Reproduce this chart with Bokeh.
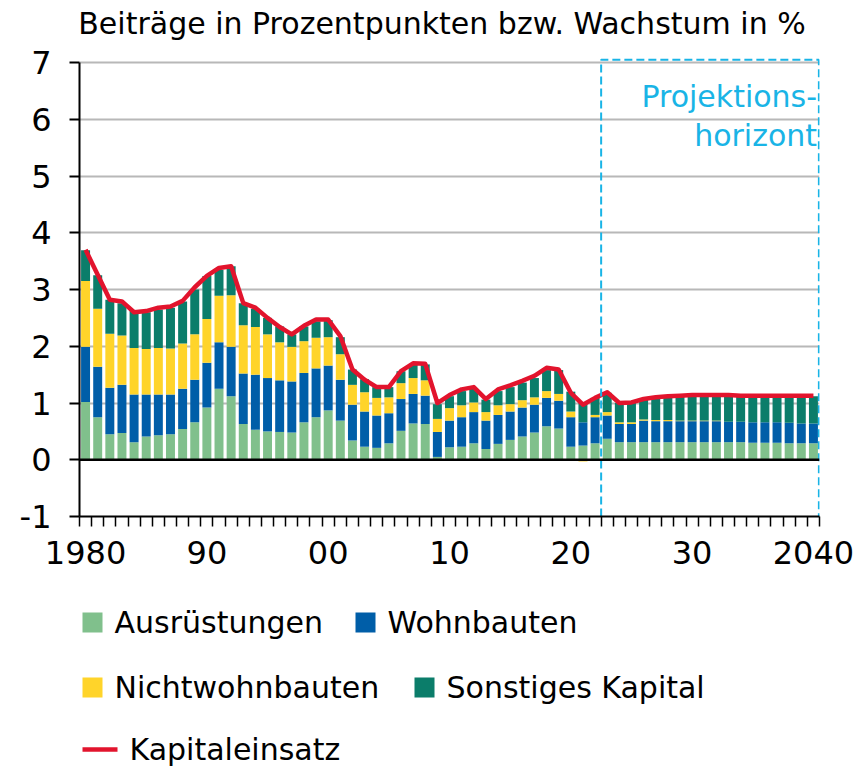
import numpy as np
from bokeh.plotting import figure
from bokeh.models import Range1d, FixedTicker, Span
from bokeh.layouts import column
from bokeh.embed import file_html
from bokeh.resources import INLINE
from bokeh.core.properties import value

# ---------------- data ----------------
years = list(range(1980, 2041))

ausruestungen = [1.02, 0.75, 0.45, 0.47, 0.31, 0.41, 0.43, 0.45, 0.54, 0.66,
                 0.92, 1.25, 1.12, 0.63, 0.53, 0.50, 0.49, 0.48, 0.66, 0.75,
                 0.87, 0.69, 0.34, 0.23, 0.21, 0.29, 0.51, 0.64, 0.63, 0.05,
                 0.22, 0.23, 0.29, 0.19, 0.28, 0.35, 0.41, 0.48, 0.59, 0.55,
                 0.23, 0.25, 0.29, 0.37, 0.31, 0.31, 0.31, 0.31, 0.31, 0.31,
                 0.31, 0.31, 0.31, 0.31, 0.31, 0.30, 0.30, 0.30, 0.29, 0.29, 0.29]

wohnbauten = [0.97, 0.89, 0.82, 0.85, 0.84, 0.74, 0.72, 0.70, 0.71, 0.75,
              0.79, 0.82, 0.87, 0.89, 0.97, 0.94, 0.91, 0.90, 0.87, 0.86,
              0.79, 0.72, 0.63, 0.62, 0.57, 0.53, 0.56, 0.52, 0.50, 0.44,
              0.47, 0.52, 0.55, 0.50, 0.51, 0.50, 0.51, 0.49, 0.50, 0.49,
              0.52, 0.41, 0.46, 0.41, 0.32, 0.32, 0.38, 0.37, 0.37, 0.37,
              0.37, 0.37, 0.37, 0.36, 0.36, 0.36, 0.36, 0.36, 0.36, 0.35, 0.35]

nichtwohnbauten = [1.16, 1.02, 0.95, 0.87, 0.82, 0.80, 0.82, 0.81, 0.80, 0.80,
                   0.77, 0.82, 0.91, 0.85, 0.84, 0.77, 0.67, 0.61, 0.56, 0.54,
                   0.50, 0.45, 0.35, 0.34, 0.31, 0.28, 0.28, 0.28, 0.27, 0.23,
                   0.22, 0.21, 0.17, 0.15, 0.17, 0.13, 0.13, 0.13, 0.12, 0.12,
                   0.10, -0.03, 0.04, 0.06, 0.03, 0.03, 0.02, 0.02, 0.02, 0.01,
                   0.01, 0.01, 0.01, 0.00, 0.00, 0.00, 0.00, 0.00, 0.00, 0.00, 0.00]

sonstiges_kapital = [0.54, 0.59, 0.60, 0.57, 0.65, 0.65, 0.68, 0.72, 0.74, 0.79,
                     0.76, 0.46, 0.51, 0.39, 0.32, 0.29, 0.28, 0.22, 0.26, 0.29,
                     0.30, 0.30, 0.27, 0.23, 0.19, 0.18, 0.21, 0.24, 0.28, 0.26,
                     0.21, 0.25, 0.24, 0.22, 0.25, 0.30, 0.31, 0.34, 0.37, 0.42,
                     0.35, 0.34, 0.30, 0.34, 0.34, 0.34, 0.36, 0.40, 0.42, 0.44,
                     0.44, 0.44, 0.44, 0.45, 0.45, 0.46, 0.46, 0.46, 0.47, 0.48, 0.48]

kapitaleinsatz = [3.70, 3.26, 2.82, 2.79, 2.60, 2.62, 2.68, 2.70, 2.80, 3.04,
                  3.24, 3.38, 3.41, 2.76, 2.68, 2.50, 2.34, 2.21, 2.36, 2.47,
                  2.47, 2.18, 1.59, 1.41, 1.28, 1.28, 1.56, 1.70, 1.69, 1.00,
                  1.14, 1.24, 1.28, 1.07, 1.24, 1.31, 1.39, 1.48, 1.62, 1.59,
                  1.18, 0.97, 1.09, 1.19, 1.00, 1.01, 1.07, 1.10, 1.12, 1.13,
                  1.14, 1.14, 1.14, 1.14, 1.13, 1.13, 1.13, 1.13, 1.13, 1.13, 1.13]

series_names = ["Ausrüstungen", "Wohnbauten", "Nichtwohnbauten", "Sonstiges Kapital"]
line_name = "Kapitaleinsatz"
tick_years = [1980, 1990, 2000, 2010, 2020, 2030, 2040]
tick_labels = ["1980", "90", "00", "10", "20", "30", "2040"]
y_ticks = [-1, 0, 1, 2, 3, 4, 5, 6, 7]
y_tick_labels = ["-1", "0", "1", "2", "3", "4", "5", "6", "7"]
projection_start = 2022.5
title_text = "Beiträge in Prozentpunkten bzw. Wachstum in %"
proj_text = ["Projektions-", "horizont"]

# ---------------- style ----------------
FONT = "DejaVu Sans"
COLORS = ["#80c08c", "#005ea8", "#ffd42a", "#0b7d6a"]
RED = "#e2142d"
CYAN = "#19b4e6"
GRID = "#b8b8b8"
BL, BR = 79, 38   # left/right borders shared by both figures
W = 857

# ---------------- stacking ----------------
vals = np.array([ausruestungen, wohnbauten, nichtwohnbauten, sonstiges_kapital])
pos = np.clip(vals, 0, None)
neg = np.clip(vals, None, 0)
pos_top = np.cumsum(pos, axis=0)
pos_bot = pos_top - pos
neg_bot = np.cumsum(neg, axis=0)
neg_top = neg_bot - neg
bottoms = np.where(vals >= 0, pos_bot, neg_bot)
tops = np.where(vals >= 0, pos_top, neg_top)

# ---------------- main figure (title area included in the frame) ----------------
p = figure(width=W, height=589,
           x_range=Range1d(1979.5, 2040.5), y_range=Range1d(-1, 8.0935),
           output_backend="svg", toolbar_location=None,
           min_border_left=BL, min_border_right=BR,
           min_border_top=0, min_border_bottom=73)
p.outline_line_color = None

p.xgrid.visible = False
p.ygrid.ticker = FixedTicker(ticks=[1, 2, 3, 4, 5, 6, 7])
p.ygrid.grid_line_color = GRID
p.ygrid.grid_line_width = 2

for i in range(4):
    p.vbar(x=years, width=0.74, bottom=bottoms[i], top=tops[i],
           fill_color=COLORS[i], line_color=None)

p.add_layout(Span(location=0, dimension="width", line_color="black", line_width=2.5))

p.line(years, kapitaleinsatz, line_color=RED, line_width=4.5, line_join="round")

# projection box
p.line(x=[projection_start, projection_start, 2040.45, 2040.45],
       y=[-1, 7.05, 7.05, -1], line_color=CYAN, line_width=2, line_dash="8 4")
p.text(x=[2040.3, 2040.3], y=[6.40, 5.71], text=proj_text,
       text_align="right", text_baseline="middle",
       text_font=value(FONT), text_font_size="30px", text_color=CYAN)

# title
p.text(x=[1979.4], y=[7.69], text=[title_text], text_align="left",
       text_baseline="alphabetic", text_font=value(FONT), text_font_size="30px",
       text_color="black")

# axes
xa = p.xaxis[0]
xa.ticker = FixedTicker(ticks=tick_years, minor_ticks=[y - 0.5 for y in years] + [2040.5])
xa.major_label_overrides = {y: l for y, l in zip(tick_years, tick_labels)}
xa.major_tick_out = 0
xa.major_tick_in = 0
xa.minor_tick_out = 10
xa.minor_tick_in = 0
xa.minor_tick_line_color = "black"
xa.minor_tick_line_width = 1.5
xa.axis_line_width = 2
xa.axis_line_color = "black"
xa.major_label_text_font = FONT
xa.major_label_text_font_size = "32px"
xa.major_label_text_color = "black"
xa.major_label_standoff = 14

ya = p.yaxis[0]
ya.bounds = (-1, 7)
ya.ticker = FixedTicker(ticks=y_ticks)
ya.major_label_overrides = {t: l for t, l in zip(y_ticks, y_tick_labels)}
ya.major_tick_out = 10
ya.major_tick_in = 0
ya.major_tick_line_width = 2
ya.major_tick_line_color = "black"
ya.minor_tick_out = 0
ya.minor_tick_in = 0
ya.axis_line_width = 2
ya.axis_line_color = "black"
ya.major_label_text_font = FONT
ya.major_label_text_font_size = "32px"
ya.major_label_text_color = "black"
ya.major_label_standoff = 18

# ---------------- legend figure (page-pixel coordinates) ----------------
lg = figure(width=W, height=178,
            x_range=Range1d(80, 820), y_range=Range1d(768, 590),
            output_backend="svg", toolbar_location=None,
            min_border_left=BL, min_border_right=BR,
            min_border_top=0, min_border_bottom=0,
            x_axis_location=None, y_axis_location=None)
lg.outline_line_color = None
lg.grid.visible = False

sq_x = [93, 366, 93, 425]
sq_y = [623, 623, 688, 688]
tx_x = [115, 388, 115, 447]
lg.rect(x=sq_x, y=sq_y, width=20, height=20, fill_color=COLORS, line_color=None)
lg.text(x=tx_x, y=sq_y, text=series_names, text_align="left", text_baseline="middle",
        text_font=value(FONT), text_font_size="30px", text_color="black")
lg.line(x=[83, 118], y=[750, 750], line_color=RED, line_width=4.5)
lg.text(x=[130], y=[750], text=[line_name], text_align="left", text_baseline="middle",
        text_font=value(FONT), text_font_size="30px", text_color="black")

layout = column(p, lg, spacing=0)
open("out.html", "w").write(file_html(layout, INLINE))
